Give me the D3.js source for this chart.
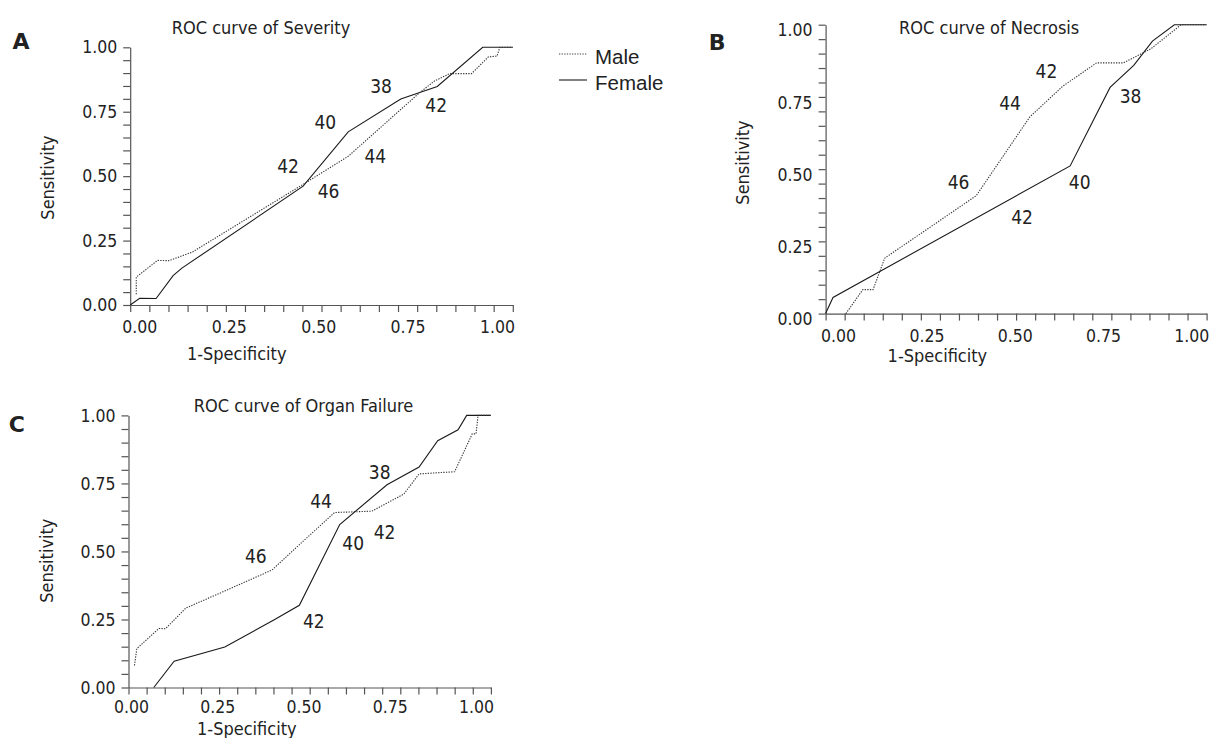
<!DOCTYPE html>
<html>
<head>
<meta charset="utf-8">
<script src="https://cdn.jsdelivr.net/npm/d3@7"></script>
<style>
  body { margin: 0; background: #fff; }
  svg text { fill: #222; }
</style>
</head>
<body>
<div id="chart"></div>
<script>
// ROC curves by sex, three panels ([1-specificity, sensitivity])
const severityMale = [[-0.0085,0.042],[-0.0085,0.108],[0.051,0.173],[0.083,0.172],[0.149,0.206],[0.466,0.475],[0.584,0.577],[0.783,0.823],[0.825,0.869],[0.868,0.898],[0.929,0.898],[0.976,0.963],[1.0,0.966],[1.008,1],[1.044,1]];
const severityFemale = [[-0.0255,0],[0.001,0.026],[0.047,0.025],[0.0945,0.114],[0.119,0.143],[0.458,0.461],[0.584,0.672],[0.731,0.799],[0.833,0.848],[0.960,1],[1.044,1]];
const necrosisMale = [[0.022,0],[0.070,0.083],[0.099,0.083],[0.132,0.192],[0.391,0.408],[0.543,0.681],[0.636,0.787],[0.732,0.868],[0.808,0.868],[0.885,0.916],[0.957,0.986],[0.971,1],[1.043,1]];
const necrosisFemale = [[-0.0355,0],[-0.0144,0.056],[0.657,0.511],[0.770,0.783],[0.837,0.859],[0.890,0.943],[0.952,1],[1.043,1]];
const organMale = [[0.010,0.081],[0.017,0.143],[0.081,0.217],[0.100,0.216],[0.159,0.292],[0.267,0.352],[0.409,0.432],[0.483,0.519],[0.590,0.643],[0.698,0.648],[0.791,0.711],[0.835,0.785],[0.938,0.793],[0.989,0.932],[1.0,0.932],[1.006,1],[1.043,1]];
const organFemale = [[0.066,0],[0.125,0.097],[0.272,0.149],[0.414,0.248],[0.488,0.302],[0.605,0.599],[0.742,0.745],[0.835,0.810],[0.889,0.907],[0.948,0.947],[0.973,1],[1.043,1]];

// cut-off annotations (age), anchored in data units
const severityCutoffs = [["38",0.676,0.849],["40",0.520,0.709],["42",0.416,0.538],["46",0.529,0.440],["44",0.660,0.576],["42",0.830,0.774]];
const necrosisCutoffs = [["42",0.590,0.840],["44",0.487,0.728],["38",0.828,0.752],["46",0.341,0.455],["40",0.684,0.455],["42",0.521,0.333]];
const organCutoffs = [["38",0.721,0.793],["44",0.551,0.683],["46",0.362,0.484],["40",0.644,0.530],["42",0.735,0.571],["42",0.530,0.242]];

const xTickValues = [0, 0.25, 0.5, 0.75, 1];
const yTickValues = d3.range(21).map(i => i / 20);
const seriesNames = ["Male", "Female"];

const FONT = '"DejaVu Sans Condensed", "DejaVu Sans", sans-serif';
const AXIS_COLOR = '#555';
const LINE_COLOR = '#1a1a1a';

const panels = [
  { letter: 'A', title: 'ROC curve of Severity', male: severityMale, female: severityFemale, cutoffs: severityCutoffs,
    axisX: [130.2, 512.8], unitX: [139.3, 497], axisY: [305, 47.3], xPad: 16,
    letterPos: [21, 48], titlePos: [261, 33.6], xTitlePos: [236.7, 359.5], yTitlePos: [47.3, 177.5], yLabelShift: 0 },
  { letter: 'B', title: 'ROC curve of Necrosis', male: necrosisMale, female: necrosisFemale, cutoffs: necrosisCutoffs,
    axisX: [825.6, 1206.6], unitX: [838.1, 1191.3], axisY: [313.6, 24.7], xPad: 16,
    letterPos: [717.2, 49.6], titlePos: [989.2, 33.5], xTitlePos: [937.4, 361.5], yTitlePos: [742.6, 162.5], yLabelShift: 5.5 },
  { letter: 'C', title: 'ROC curve of Organ Failure', male: organMale, female: organFemale, cutoffs: organCutoffs,
    axisX: [128.5, 490.9], unitX: [131, 476], axisY: [687.5, 415.4], xPad: 13.5,
    letterPos: [16.9, 431], titlePos: [303.6, 411.6], xTitlePos: [246.8, 735], yTitlePos: [46.7, 560.7], yLabelShift: 0 }
];

const svg = d3.select('#chart').append('svg')
  .attr('width', 1211)
  .attr('height', 738);

const fmt = d3.format('.2f');

panels.forEach(p => {
  const g = svg.append('g');
  const x = d3.scaleLinear().domain([0, 1]).range(p.unitX);
  const y = d3.scaleLinear().domain([0, 1]).range(p.axisY);
  const minor = d3.scaleLinear().domain([0, 20]).range(p.axisX);  // tick marks are evenly spread along the whole axis line

  // x axis line + 21 marks
  const xMarks = g.append('g')
    .attr('transform', `translate(0,${p.axisY[0]})`)
    .call(d3.axisBottom(minor).tickValues(d3.range(21)).tickFormat('').tickSize(7).tickSizeOuter(0));
  xMarks.selectAll('path, line').attr('stroke', AXIS_COLOR).attr('stroke-width', 1.2);

  // x labels
  const xLabels = g.append('g')
    .attr('transform', `translate(0,${p.axisY[0]})`)
    .call(d3.axisBottom(x).tickValues(xTickValues).tickFormat(fmt).tickSize(0).tickPadding(p.xPad))
    .attr('font-family', FONT).attr('font-size', 17.5);
  xLabels.select('.domain').remove();
  xLabels.selectAll('text').attr('fill', '#222');

  // y axis
  const yAxis = g.append('g')
    .attr('transform', `translate(${p.axisX[0]},0)`)
    .call(d3.axisLeft(y).tickValues(yTickValues)
      .tickFormat(d => (Math.round(d * 100) % 25 === 0 ? fmt(d) : ''))
      .tickSize(7).tickSizeOuter(0).tickPadding(6))
    .attr('font-family', FONT).attr('font-size', 17.5);
  yAxis.selectAll('path, line').attr('stroke', AXIS_COLOR).attr('stroke-width', 1.2);
  yAxis.selectAll('text').attr('fill', '#222').attr('y', p.yLabelShift);

  // curves
  const line = d3.line().x(d => x(d[0])).y(d => y(d[1]));
  g.append('path').datum(p.female)
    .attr('d', line).attr('fill', 'none')
    .attr('stroke', LINE_COLOR).attr('stroke-width', 1.1);
  g.append('path').datum(p.male)
    .attr('d', line).attr('fill', 'none')
    .attr('stroke', '#333').attr('stroke-width', 1.1)
    .attr('stroke-dasharray', '1.3,1.3');

  // cut-off labels
  g.selectAll('.cut').data(p.cutoffs).join('text')
    .attr('class', 'cut')
    .attr('x', d => x(d[1]))
    .attr('y', d => y(d[2]))
    .attr('dy', '0.36em')
    .attr('text-anchor', 'middle')
    .attr('font-family', FONT).attr('font-size', 19)
    .text(d => d[0]);

  // titles
  g.append('text').attr('x', p.titlePos[0]).attr('y', p.titlePos[1])
    .attr('text-anchor', 'middle').attr('font-family', FONT).attr('font-size', 18)
    .text(p.title);
  g.append('text').attr('x', p.xTitlePos[0]).attr('y', p.xTitlePos[1])
    .attr('text-anchor', 'middle').attr('font-family', FONT).attr('font-size', 18)
    .text('1-Specificity');
  g.append('text')
    .attr('transform', `translate(${p.yTitlePos[0]},${p.yTitlePos[1]}) rotate(-90)`)
    .attr('dy', '0.36em')
    .attr('text-anchor', 'middle').attr('font-family', FONT).attr('font-size', 18)
    .text('Sensitivity');
  g.append('text').attr('x', p.letterPos[0]).attr('y', p.letterPos[1] + 0.5)
    .attr('text-anchor', 'middle').attr('font-family', '"DejaVu Sans", sans-serif')
    .attr('font-weight', 'bold').attr('font-size', 22)
    .text(p.letter);
});

// legend
const legend = svg.append('g').attr('transform', 'translate(559,54)');
const legendItems = legend.selectAll('g').data(seriesNames).join('g')
  .attr('transform', (d, i) => `translate(0,${i * 26})`);
legendItems.append('line')
  .attr('x1', 0).attr('x2', 28).attr('y1', 0).attr('y2', 0)
  .attr('stroke', (d, i) => i === 0 ? '#444' : LINE_COLOR)
  .attr('stroke-width', 1.1)
  .attr('stroke-dasharray', (d, i) => i === 0 ? '1.3,1.3' : null);
legendItems.append('text')
  .attr('x', 36).attr('y', 2.5).attr('dy', '0.36em')
  .attr('font-family', '"Liberation Sans", Arial, sans-serif')
  .attr('font-size', 20.5)
  .text(d => d);
</script>
</body>
</html>
